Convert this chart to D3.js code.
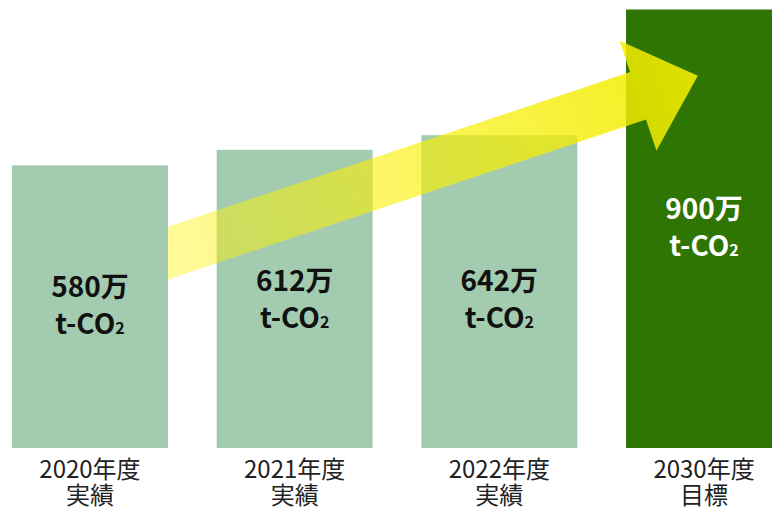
<!DOCTYPE html>
<html>
<head>
<meta charset="utf-8">
<script src="https://cdn.jsdelivr.net/npm/d3@7"></script>
<style>
  html, body { margin: 0; padding: 0; background: #fff; overflow: hidden; }
  svg { display: block; }
</style>
</head>
<body>
<script>
(function(){

//chart data
var years = ["2020年度", "2021年度", "2022年度", "2030年度"];
var kinds = ["実績", "実績", "実績", "目標"];
var values = [580, 612, 642, 900];
var unit = "万";
var unitLine = ["t-CO", "2"];

//arrow runs from the first bar to the target bar, in value units
var arrowFrom = 400,
    arrowTo = 764;

var width = 772,
    height = 511;

window.onload = drawChart();

function drawChart(){

    var svg = d3.select("body")
        .append("svg")
        .attr("width", width)
        .attr("height", height);

    var x = d3.scaleBand()
        .domain(years)
        .range([12, 782])
        .paddingInner(0.238)
        .paddingOuter(0);

    var y = d3.scaleLinear()
        .domain([0, 900])
        .range([448, 9.5]);

    var defs = svg.append("defs");

    //bars
    var bars = svg.selectAll(".bar")
        .data(values)
        .enter()
        .append("rect")
        .attr("class", "bar")
        .attr("x", function(d, i){ return x(years[i]); })
        .attr("y", function(d){ return y(d); })
        .attr("width", x.bandwidth())
        .attr("height", function(d){ return y(0) - y(d); })
        .style("fill", function(d, i){
            return kinds[i] == "目標" ? "#2e7503" : "#a3cbb0";
        });

    //arrow geometry: start at right edge of first bar, tip over the target bar
    var sx = x(years[0]) + x.bandwidth(),
        sy = y(arrowFrom),
        tx = x(years[3]) + x.bandwidth() * 0.46,
        ty = y(arrowTo);
    var len = Math.sqrt((tx - sx) * (tx - sx) + (ty - sy) * (ty - sy));
    var ux = (tx - sx) / len, uy = (ty - sy) / len;
    var nx = -uy, ny = ux;
    var half = 25, headHalf = 58, headLen = 63;

    function pt(a, b){
        return [sx + ux * a + nx * b, sy + uy * a + ny * b];
    }
    var back = -40; //extends behind the clip line
    var poly = [
        pt(back, -half), pt(len - headLen, -half), pt(len - headLen, -headHalf),
        pt(len, 0),
        pt(len - headLen, headHalf), pt(len - headLen, half), pt(back, half)
    ];

    var grad = defs.append("linearGradient")
        .attr("id", "arrowGrad")
        .attr("gradientUnits", "userSpaceOnUse")
        .attr("x1", sx).attr("y1", sy)
        .attr("x2", tx).attr("y2", ty);
    grad.append("stop").attr("offset", "0%")
        .attr("stop-color", "#fff200").attr("stop-opacity", 0.4);
    grad.append("stop").attr("offset", "100%")
        .attr("stop-color", "#f2ec00").attr("stop-opacity", 0.9);

    defs.append("clipPath")
        .attr("id", "arrowClip")
        .append("rect")
        .attr("x", sx).attr("y", 0)
        .attr("width", width - sx).attr("height", height);

    svg.append("path")
        .attr("class", "arrow")
        .attr("d", "M" + poly.join("L") + "Z")
        .attr("clip-path", "url(#arrowClip)")
        .style("fill", "url(#arrowGrad)");

    //value labels inside bars
    var labels = svg.selectAll(".valueLabel")
        .data(values)
        .enter()
        .append("text")
        .attr("class", "valueLabel")
        .attr("text-anchor", "middle")
        .style("font-family", "'Noto Sans CJK JP', 'Noto Sans', sans-serif")
        .style("font-weight", "bold")
        .style("font-size", "28px")
        .style("fill", function(d, i){
            return kinds[i] == "目標" ? "#ffffff" : "#111111";
        });

    labels.each(function(d, i){
        var cx = x(years[i]) + x.bandwidth() / 2,
            mid = Math.max((y(d) + y(0)) / 2, 301);
        if (kinds[i] == "目標") mid = (y(d) + y(0)) / 2;
        var t = d3.select(this);
        t.append("tspan")
            .attr("x", cx)
            .attr("y", mid - 10)
            .text(d + unit);
        t.append("tspan")
            .attr("x", cx)
            .attr("y", mid + 27)
            .text(unitLine[0]);
        t.append("tspan")
            .style("font-size", "16px")
            .text(unitLine[1]);
    });

    //category labels under bars
    var cats = svg.selectAll(".catLabel")
        .data(years)
        .enter()
        .append("text")
        .attr("class", "catLabel")
        .attr("text-anchor", "middle")
        .style("font-family", "'Noto Sans CJK JP', 'Noto Sans', sans-serif")
        .style("font-size", "24px")
        .style("fill", "#222222");

    cats.each(function(d, i){
        var cx = x(d) + x.bandwidth() / 2;
        var t = d3.select(this);
        t.append("tspan").attr("x", cx).attr("y", 478).text(d);
        t.append("tspan").attr("x", cx).attr("y", 504).text(kinds[i]);
    });
};

})();
</script>
</body>
</html>
